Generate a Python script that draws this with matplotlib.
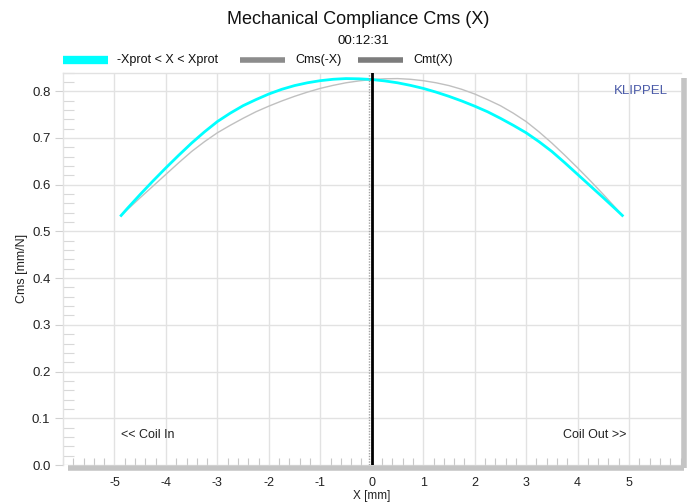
import matplotlib
matplotlib.use("Agg")
import matplotlib.pyplot as plt
from matplotlib.lines import Line2D
from matplotlib.ticker import MultipleLocator, FixedLocator

plt.rcParams['font.family'] = ['Liberation Sans', 'DejaVu Sans']

# Data
x_vals = [-4.87, -4.75, -4.5, -4.25, -4.0, -3.75, -3.5, -3.25, -3.0, -2.75, -2.5, -2.25,
          -2.0, -1.75, -1.5, -1.25, -1.0, -0.75, -0.5, -0.25, 0.0,
          0.25, 0.5, 0.75, 1.0, 1.25, 1.5, 1.75, 2.0, 2.25, 2.5, 2.75,
          3.0, 3.25, 3.5, 3.75, 4.0, 4.25, 4.5, 4.75, 4.87]
cms_x = [0.534, 0.549, 0.579, 0.608, 0.636, 0.663, 0.689, 0.713, 0.735, 0.753, 0.769, 0.782,
         0.794, 0.804, 0.812, 0.818, 0.8225, 0.8255, 0.827, 0.8265, 0.825,
         0.822, 0.818, 0.8125, 0.806, 0.798, 0.789, 0.779, 0.768, 0.756, 0.742, 0.727,
         0.711, 0.692, 0.671, 0.647, 0.622, 0.597, 0.572, 0.5465, 0.534]
cms_neg_x = [0.534, 0.5465, 0.572, 0.597, 0.622, 0.647, 0.671, 0.692, 0.711, 0.727, 0.742, 0.756,
             0.768, 0.779, 0.789, 0.798, 0.806, 0.8125, 0.818, 0.822, 0.825,
             0.8265, 0.827, 0.8255, 0.8225, 0.818, 0.812, 0.804, 0.794, 0.782, 0.769, 0.753,
             0.735, 0.713, 0.689, 0.663, 0.636, 0.608, 0.579, 0.549, 0.534]

x_ticks = [-5, -4, -3, -2, -1, 0, 1, 2, 3, 4, 5]
y_ticks = [0.0, 0.1, 0.2, 0.3, 0.4, 0.5, 0.6, 0.7, 0.8]

title = "Mechanical Compliance Cms (X)"
subtitle = "00:12:31"
legend_labels = ["-Xprot < X < Xprot", "Cms(-X)", "Cmt(X)"]

fig = plt.figure(figsize=(6.91, 5.03), dpi=100)
ax = fig.add_axes([63/691, 1 - 465/503, (680.5 - 63)/691, (465 - 72.5)/503])

ax.set_xlim(-6, 6)
ax.set_ylim(0, 0.84)

# grid
ax.xaxis.set_major_locator(FixedLocator(x_ticks))
ax.yaxis.set_major_locator(FixedLocator(y_ticks))
ax.xaxis.set_minor_locator(MultipleLocator(0.2))
ax.yaxis.set_minor_locator(MultipleLocator(0.02))
ax.grid(True, which='major', color='#e2e2e2', linewidth=1.0, zorder=0)
ax.set_axisbelow(True)

ax.set_xticklabels([str(t) for t in x_ticks])
ax.set_yticklabels([f"{t:.1f}" for t in y_ticks])
ax.tick_params(axis='x', which='major', length=0, pad=9, labelsize=9, labelcolor='#222222')
ax.tick_params(axis='x', which='minor', direction='in', length=5, color='#c8c8c8', width=0.8)
ax.tick_params(axis='y', which='major', direction='out', length=6, color='#d0d0d0', pad=3,
               labelsize=9.5, labelcolor='#222222')
ax.tick_params(axis='y', which='minor', direction='in', length=8, color='#d8d8d8', width=0.8)

for s in ['left', 'top']:
    ax.spines[s].set_color('#e2e2e2')
    ax.spines[s].set_linewidth(1.0)
for s in ['right', 'bottom']:
    ax.spines[s].set_visible(False)

# shadow borders
ax.add_line(Line2D([0.008, 1.006], [-0.007, -0.007], transform=ax.transAxes,
                   color='#c4c4c4', linewidth=4, clip_on=False, solid_capstyle='butt'))
ax.add_line(Line2D([1.006, 1.006], [-0.007, 0.985], transform=ax.transAxes,
                   color='#c4c4c4', linewidth=4, clip_on=False, solid_capstyle='butt'))

# curves
ax.plot(x_vals, cms_neg_x, color='#c0c0c0', linewidth=1.0, zorder=3)
ax.plot(x_vals, cms_x, color='#00ffff', linewidth=2.0, zorder=4, solid_joinstyle='round')

# zero line
ax.axvline(-0.05, color='#a0a0a0', linewidth=1.0, linestyle=(0, (1, 1)), zorder=5)
ax.axvline(0.0, color='#000000', linewidth=2.0, zorder=6)

ax.set_ylabel("Cms [mm/N]", fontsize=9, labelpad=3, color='#222222')
fig.text(372/691, 1 - 495.5/503, "X [mm]", fontsize=8.5, ha='center', va='center', color='#222222')

ax.text(-4.35, 0.065, "<< Coil In", fontsize=9, ha='center', va='center', color='#222222')
ax.text(4.33, 0.065, "Coil Out >>", fontsize=9, ha='center', va='center', color='#222222')
ax.text(5.75, 0.80, "KLIPPEL", fontsize=9.5, ha='right', va='center', color='#4a5aa8')

fig.text(358/691, 1 - 20/503, title, fontsize=13, ha='center', va='center', color='#111111')
fig.text(363/691, 1 - 41/503, subtitle, fontsize=9.5, ha='center', va='center', color='#111111')

# legend (manual, figure coordinates)
leg_y = 1 - 60/503
entries = [(63, 108, '#00ffff', 117), (240, 285, '#8c8c8c', 295), (358, 403, '#7c7c7c', 413)]
for (x0, x1, col, tx), lab in zip(entries, legend_labels):
    fig.add_artist(Line2D([x0/691, x1/691], [leg_y, leg_y], color=col,
                          linewidth=6 if col == '#00ffff' else 4, solid_capstyle='butt'))
    fig.text(tx/691, leg_y, lab, fontsize=9, ha='left', va='center', color='#111111')

fig.savefig("out.png", dpi=100)
